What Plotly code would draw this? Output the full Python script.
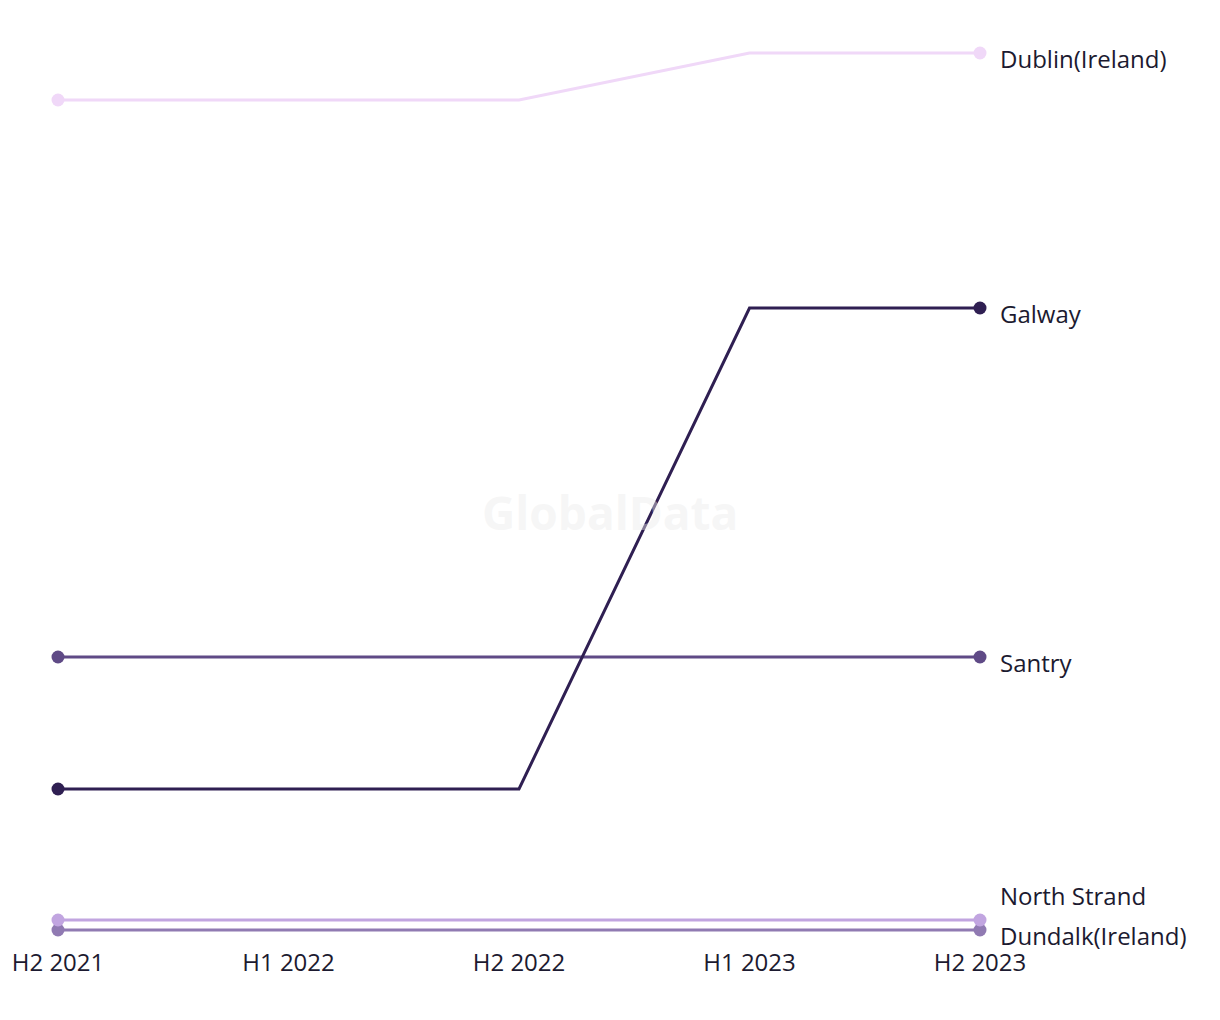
import plotly.graph_objects as go

periods = ["H2 2021", "H1 2022", "H2 2022", "H1 2023", "H2 2023"]
dublin = [84.0, 84.0, 84.0, 88.7, 88.7]
galway = [15.1, 15.1, 15.1, 63.2, 63.2]
santry = [28.3, 28.3, 28.3, 28.3, 28.3]
north_strand = [2.0, 2.0, 2.0, 2.0, 2.0]
dundalk = [1.0, 1.0, 1.0, 1.0, 1.0]

series = [
    ("Dublin(Ireland)", dublin, "#f0d8f8", 0),
    ("Galway", galway, "#2f1f52", 0),
    ("Santry", santry, "#5f4a86", 0),
    ("North Strand", north_strand, "#c1a5e0", -30),
    ("Dundalk(Ireland)", dundalk, "#907ab2", 0),
]

FONT = "Open Sans"
TXT = "#1c1a30"
n = len(periods)
xs = list(range(n))

fig = go.Figure()
for name, vals, color, _ in series[::-1]:
    fig.add_trace(go.Scatter(
        x=xs, y=vals, mode="lines", name=name,
        line=dict(color=color, width=3), cliponaxis=False,
        showlegend=False, hoverinfo="skip"))
    fig.add_trace(go.Scatter(
        x=[xs[0], xs[-1]], y=[vals[0], vals[-1]], mode="markers",
        marker=dict(color=color, size=13), cliponaxis=False,
        showlegend=False, hoverinfo="skip"))

for name, vals, color, dy in series:
    fig.add_annotation(x=n - 1, y=vals[-1], xref="x", yref="y",
                       text=name, showarrow=False, xanchor="left", yanchor="middle",
                       xshift=18, yshift=-5 - dy,
                       font=dict(size=24, color=TXT, family=FONT))
    if dy:
        fig.add_shape(type="line", xref="x", yref="y", xsizemode="pixel", ysizemode="pixel",
                      xanchor=n - 1, yanchor=vals[-1],
                      x0=0, y0=0, x1=13, y1=33,
                      line=dict(color=color, width=2, dash="dot"))

fig.add_annotation(x=0.599, y=0.476, xref="paper", yref="paper", text="<b>GlobalData</b>",
                   showarrow=False, font=dict(size=46, color="rgba(235,235,235,0.45)", family=FONT))

fig.update_layout(
    width=1220, height=1020,
    margin=dict(l=58, r=240, t=40, b=80),
    plot_bgcolor="white", paper_bgcolor="white",
    xaxis=dict(tickmode="array", tickvals=xs, ticktext=periods,
               range=[0, n - 1], showgrid=False, zeroline=False, showline=False,
               ticks="", ticklabelstandoff=6,
               tickfont=dict(size=24, color=TXT, family=FONT)),
    yaxis=dict(range=[0, 90], visible=False),
)
fig.write_html("out.html")
